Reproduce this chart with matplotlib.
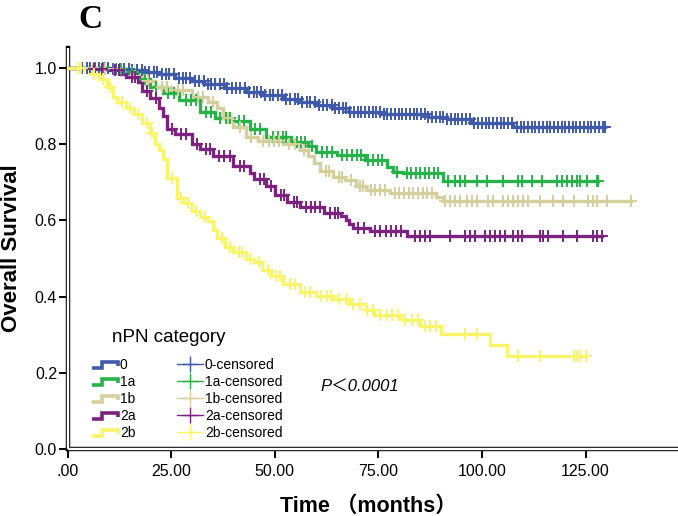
import numpy as np
import matplotlib
matplotlib.use("Agg")
import matplotlib.pyplot as plt
from matplotlib.lines import Line2D
from matplotlib.legend_handler import HandlerBase

# ---------------- data ----------------
groups = ["0", "1a", "1b", "2a", "2b"]
colors = ["#3F59AB", "#27B24A", "#D5CF9C", "#7C2380", "#F9F56B"]

# event times / survival after each drop (step, post)
t_0 = [0, 10, 15, 18, 22, 26, 30, 33, 38, 43, 47, 52, 56, 60, 64, 68, 76, 87, 91.5, 97.5, 107.5]
s_0 = [1.0, 0.998, 0.995, 0.99, 0.983, 0.975, 0.965, 0.958, 0.948, 0.937, 0.928, 0.918, 0.911, 0.903,
       0.895, 0.885, 0.878, 0.872, 0.866, 0.856, 0.846]
end_0 = 129.7

t_1a = [0, 10, 14, 17, 20, 23, 27, 32, 35.5, 40, 44, 48, 54, 58, 60, 65, 71.7, 77, 78.6, 81, 90.6]
s_1a = [1.0, 0.998, 0.99, 0.97, 0.95, 0.935, 0.915, 0.885, 0.868, 0.86, 0.84, 0.818, 0.806, 0.795,
        0.78, 0.772, 0.759, 0.741, 0.728, 0.725, 0.704]
end_1a = 128.0

t_1b = [0, 8, 13, 15, 18, 21, 25, 30, 34, 36, 37.5, 40, 43, 46, 52, 56, 58, 59.5, 61, 64, 67, 69.7,
        72, 77.8, 89, 90.6]
s_1b = [1.0, 0.998, 0.99, 0.98, 0.965, 0.95, 0.942, 0.925, 0.91, 0.895, 0.87, 0.845, 0.82, 0.808,
        0.8, 0.785, 0.77, 0.75, 0.73, 0.715, 0.705, 0.69, 0.68, 0.673, 0.662, 0.651]
end_1b = 136.0

t_2a = [0, 5, 10, 13, 14, 17, 18, 20, 22, 23, 24, 26, 30, 32, 35, 40, 44, 45, 48, 50, 53, 56, 62,
        66, 67.3, 68, 69, 73, 81.8]
s_2a = [1.0, 0.998, 0.995, 0.985, 0.977, 0.963, 0.94, 0.92, 0.895, 0.875, 0.84, 0.827, 0.8, 0.787,
        0.77, 0.743, 0.725, 0.709, 0.69, 0.666, 0.648, 0.635, 0.62, 0.612, 0.60, 0.59, 0.579, 0.572, 0.558]
end_2a = 129.0

t_2b = [0, 4, 5.5, 7.5, 9.5, 11, 12, 14, 16, 18, 20, 21, 22, 23, 24, 26.3, 28, 30, 32, 34, 35, 36,
        38, 40, 43, 45, 47, 49, 52, 56, 60, 64, 68, 72, 74, 80, 81, 85, 90, 102, 106]
s_2b = [1.0, 0.995, 0.985, 0.97, 0.95, 0.925, 0.91, 0.895, 0.88, 0.855, 0.83, 0.8, 0.785, 0.76,
        0.71, 0.66, 0.646, 0.625, 0.61, 0.598, 0.576, 0.555, 0.53, 0.516, 0.5, 0.49, 0.47, 0.455,
        0.432, 0.411, 0.402, 0.393, 0.38, 0.366, 0.353, 0.345, 0.338, 0.322, 0.301, 0.272, 0.243]
end_2b = 125.0

# censoring times
c_0 = [3.4, 4.6, 5.5, 6.7, 7.6, 8.8, 9.7, 10.9, 11.8, 12.6, 13.7, 14.8, 15.6, 16.7, 17.9, 18.8, 19.6,
       20.8, 21.7, 22.9, 23.8, 24.6, 25.7, 26.9, 27.8, 28.7, 29.6, 30.8, 31.7, 32.9, 33.8, 34.6, 35.7,
       36.8, 37.7, 38.6, 39.8, 40.7, 41.6, 42.8, 43.7, 44.9, 45.8, 46.6, 47.7, 48.8, 49.6, 50.7, 51.8,
       52.6, 53.7, 54.8, 55.6, 56.7, 57.8, 58.6, 59.7, 60.8, 61.6, 62.7, 63.8, 64.6, 65.5, 66.4, 67.3,
       68.2, 69.1, 70.0, 70.9, 71.8, 72.7, 73.6, 74.5, 75.4, 76.3, 77.2, 78.1, 79.0, 79.9, 80.8, 81.7,
       82.6, 83.5, 84.4, 85.3, 86.2, 87.1, 88.0, 88.9, 89.8, 90.7, 91.6, 92.5, 93.4, 94.3, 95.2, 96.1,
       97.0, 98.2, 99.1, 100.0, 100.9, 101.8, 102.7, 103.6, 104.5, 105.4, 106.3, 107.2, 108.4, 109.3,
       110.2, 111.1, 112.0, 112.9, 113.8, 114.7, 115.6, 116.5, 117.4, 118.3, 119.2, 120.1, 121.0,
       121.9, 122.8, 123.7, 124.6, 125.5, 126.4, 127.3, 128.2, 129.1, 129.7]
c_1a = [8.5, 11.2, 12.8, 15.5, 18.6, 21.4, 24.3, 25.8, 28.5, 29.7, 30.9, 33.4, 34.6, 36.8, 38.2,
        39.1, 41.3, 42.6, 45.2, 46.4, 49.5, 50.7, 51.9, 52.8, 55.3, 56.4, 57.2, 59.1, 61.5, 62.7,
        63.9, 66.2, 67.4, 68.6, 69.8, 70.9, 72.6, 73.8, 74.9, 75.9, 79.6, 81.8, 82.9, 84.0, 85.1,
        86.2, 87.3, 88.4, 89.5, 91.8, 93.5, 94.7, 95.9, 98.8, 101.2, 105.1, 108.7, 109.7, 112.1,
        114.5, 118.1, 119.3, 120.5, 121.7, 122.9, 123.7, 125.4, 127.8, 128.0]
c_1b = [6.2, 9.1, 11.4, 16.3, 19.5, 22.8, 24.1, 26.6, 27.9, 31.5, 32.8, 35.2, 38.8, 41.6, 44.3,
        47.2, 48.6, 49.9, 51.1, 53.5, 54.8, 57.1, 62.3, 63.2, 65.4, 66.2, 68.3, 70.6, 71.4, 73.2,
        74.3, 75.4, 76.6, 78.9, 80.1, 81.2, 82.3, 83.4, 84.6, 85.7, 86.8, 87.9, 91.1, 92.3, 93.5,
        94.7, 96.3, 97.5, 98.7, 101.5, 102.7, 105.1, 106.3, 107.5, 108.7, 109.9, 111.1, 114.0,
        117.2, 119.6, 122.1, 125.7, 126.9, 127.7, 130.1, 136.0]
c_2a = [3.2, 6.4, 8.3, 11.5, 12.4, 15.6, 16.3, 19.2, 21.3, 25.1, 27.4, 28.6, 31.2, 33.5, 34.4,
        36.6, 37.8, 39.1, 41.5, 42.7, 46.5, 47.3, 49.2, 51.5, 52.3, 54.6, 55.4, 57.5, 58.7, 59.8,
        61.0, 63.4, 64.6, 65.3, 70.2, 71.5, 74.3, 75.5, 76.8, 78.0, 79.3, 80.5, 83.8, 85.0, 86.2,
        87.4, 92.3, 95.9, 97.1, 98.3, 100.7, 101.9, 103.1, 104.3, 105.6, 107.6, 108.8, 109.6,
        114.0, 114.8, 116.0, 119.6, 122.9, 126.9, 127.7, 129.0]
c_2b = [2.6, 3.3, 6.4, 8.6, 10.3, 13.1, 15.2, 17.1, 19.3, 20.5, 25.2, 27.3, 29.1, 31.0, 33.1,
        37.2, 39.1, 41.4, 42.2, 44.1, 46.2, 48.3, 50.4, 51.2, 53.6, 54.8, 57.4, 58.5, 61.2, 62.6,
        63.5, 65.5, 67.3, 68.9, 70.5, 72.2, 73.7, 75.4, 77.0, 78.2, 79.8, 81.4, 83.0, 84.6, 86.2,
        87.4, 89.0, 95.9, 98.7, 108.8, 114.0, 122.1, 122.9, 123.7, 125.0]

times = [t_0, t_1a, t_1b, t_2a, t_2b]
survs = [s_0, s_1a, s_1b, s_2a, s_2b]
ends = [end_0, end_1a, end_1b, end_2a, end_2b]
censors = [c_0, c_1a, c_1b, c_2a, c_2b]

x_ticks = [0, 25, 50, 75, 100, 125]
x_ticklabels = [".00", "25.00", "50.00", "75.00", "100.00", "125.00"]
y_ticks = [0.0, 0.2, 0.4, 0.6, 0.8, 1.0]
y_ticklabels = ["0.0", "0.2", "0.4", "0.6", "0.8", "1.0"]

# ---------------- figure ----------------
W, H = 678, 516
fig = plt.figure(figsize=(W / 100, H / 100), dpi=100)
ax = fig.add_axes([67.5 / W, 1 - 449 / H, 1 - 67.5 / W, (449 - 48) / H])
ax.set_xlim(0, 147.3)
ax.set_ylim(0, 1.0525)

sans = ["Liberation Sans", "DejaVu Sans"]
for t, s, e, c, col in zip(times, survs, ends, censors, colors):
    tt = np.array(t + [e])
    ss = np.array(s + [s[-1]])
    ax.step(tt, ss, where="post", color=col, lw=2.4, zorder=3, solid_joinstyle="miter")
    ct = np.array(c)
    idx = np.searchsorted(np.array(t), ct, side="right") - 1
    cs = np.array(s)[idx]
    ax.plot(ct, cs, linestyle="none", marker="+", markersize=8, markeredgewidth=1.4,
            color=col, zorder=4)

# spines (double line style)
for side in ["top", "right"]:
    ax.spines[side].set_visible(False)
for side in ["left", "bottom"]:
    ax.spines[side].set_linewidth(3.2)
    ax.spines[side].set_color("black")
    ax.spines[side].set_zorder(2)
ax.plot([0, 0], [0, 1], transform=ax.transAxes, color="white", lw=1.7, clip_on=False, zorder=2.6,
        solid_capstyle="butt")
ax.plot([0, 1], [0, 0], transform=ax.transAxes, color="white", lw=1.7, clip_on=False, zorder=2.6,
        solid_capstyle="butt")

ax.set_xticks(x_ticks)
ax.set_xticklabels(x_ticklabels)
ax.set_yticks(y_ticks)
ax.set_yticklabels(y_ticklabels)
ax.tick_params(axis="both", direction="out", length=6.5, width=1.4, color="black",
               labelsize=11.5, labelcolor="black")
ax.tick_params(axis="y", pad=1)
ax.tick_params(axis="x", pad=4)
for lab in ax.get_xticklabels() + ax.get_yticklabels():
    lab.set_fontfamily(sans)

# labels
fig.text(78 / W, 1 - 28 / H, "C", fontsize=24, fontweight="bold", family="Liberation Serif",
         ha="left", va="baseline")
fig.text(12 / W, 1 - 248 / H, "Overall Survival", rotation=90, fontsize=16, fontweight="bold",
         family=sans, ha="center", va="center")
fig.text(368 / W, 1 - 512 / H, "Time （months）", fontsize=15.5, fontweight="bold",
         family=["Liberation Sans", "Noto Sans CJK SC", "DejaVu Sans"], ha="center", va="baseline")
fig.text(320 / W, 1 - 391 / H, "P＜0.0001", fontsize=12, style="italic",
         family=["Liberation Sans", "Noto Sans CJK SC", "DejaVu Sans"], ha="left", va="baseline")
fig.text(112 / W, 1 - 342 / H, "nPN category", fontsize=13.5, family=sans, ha="left", va="baseline")


# legend
class StepProxy(Line2D):
    pass


class StepHandler(HandlerBase):
    def create_artists(self, legend, orig_handle, xdescent, ydescent, width, height, fontsize, trans):
        x0, y0 = -xdescent, -ydescent
        xs = [x0, x0 + 0.4 * width, x0 + 0.4 * width, x0 + width, x0 + width]
        ys = [y0 + 0.15 * height, y0 + 0.15 * height, y0 + 0.75 * height, y0 + 0.75 * height,
              y0 + 0.35 * height]
        ln = Line2D(xs, ys, color=orig_handle.get_color(), lw=orig_handle.get_linewidth(),
                    solid_joinstyle="miter", solid_capstyle="butt")
        ln.set_transform(trans)
        return [ln]


handles = [StepProxy([], [], color=c, lw=2.6) for c in colors]
handles += [Line2D([], [], color=c, lw=1.0, marker="+", markersize=11, markeredgewidth=1.0)
            for c in colors]
labels = groups + [g + "-censored" for g in groups]
leg = ax.legend(handles, labels, ncol=2, loc="upper left",
                bbox_to_anchor=(92 / W, 1 - 358 / H), bbox_transform=fig.transFigure,
                frameon=False, borderpad=0, borderaxespad=0, handlelength=1.85,
                handletextpad=0.15, columnspacing=3.0, labelspacing=0.22,
                prop={"family": sans, "size": 10}, handler_map={StepProxy: StepHandler()})

fig.savefig("out.png", dpi=100)
